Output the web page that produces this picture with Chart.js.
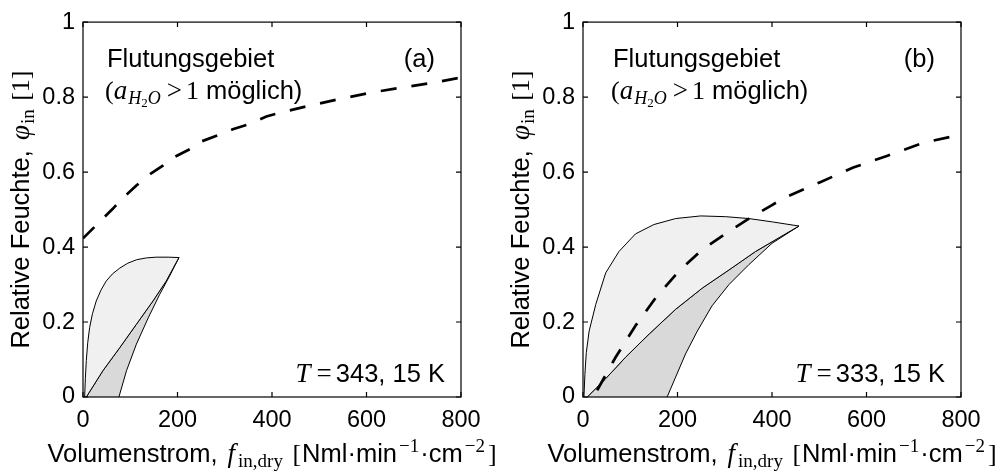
<!DOCTYPE html>
<html>
<head>
<meta charset="utf-8">
<script src="https://cdn.jsdelivr.net/npm/chart.js@4.4.0/dist/chart.umd.min.js"></script>
<style>
  body { margin: 0; background: #fff; width: 1007px; height: 476px; overflow: hidden; position: relative; }
  canvas { position: absolute; top: 0; }
</style>
</head>
<body>
<canvas id="chartA" width="500" height="476" style="left:0"></canvas>
<canvas id="chartB" width="500" height="476" style="left:500px"></canvas>
<script>
// axis ticks
const xTicks = [0, 200, 400, 600, 800];
const yTicks = [0, 0.2, 0.4, 0.6, 0.8, 1];

// (a) T = 343,15 K
const aFloodX = [0, 35, 63, 81, 113, 134, 169, 190, 226, 247, 289, 317, 349, 388, 416, 479, 536, 606, 677, 740, 800];
const aFloodY = [0.423, 0.467, 0.502, 0.527, 0.564, 0.588, 0.617, 0.638, 0.661, 0.680, 0.700, 0.714, 0.727, 0.748, 0.758, 0.777, 0.793, 0.811, 0.826, 0.838, 0.852];
const aUpperX = [3.5, 5, 7, 10, 14, 20, 28, 38, 49, 62, 78, 95, 113, 134, 155, 180, 203];
const aUpperY = [0, 0.05, 0.097, 0.145, 0.185, 0.222, 0.256, 0.285, 0.309, 0.328, 0.344, 0.357, 0.366, 0.371, 0.373, 0.373, 0.372];
const aMidX = [7, 42, 78, 113, 148, 176, 203];
const aMidY = [0, 0.07, 0.132, 0.194, 0.256, 0.309, 0.372];
const aLowX = [76, 92, 113, 138, 162, 183, 203];
const aLowY = [0, 0.07, 0.141, 0.211, 0.273, 0.322, 0.372];

// (b) T = 333,15 K
const bFloodX = [30, 69, 111, 154, 203, 252, 302, 351, 400, 424, 502, 572, 643, 720, 800];
const bFloodY = [0.018, 0.106, 0.190, 0.265, 0.336, 0.393, 0.436, 0.476, 0.512, 0.530, 0.573, 0.612, 0.643, 0.678, 0.700];
const bUpperX = [2, 4, 7, 13, 27, 48, 76, 111, 150, 196, 249, 302, 351, 401, 457];
const bUpperY = [0, 0.06, 0.119, 0.176, 0.247, 0.331, 0.388, 0.435, 0.460, 0.476, 0.483, 0.481, 0.476, 0.467, 0.456];
const bMidX = [9, 48, 90, 140, 196, 253, 309, 365, 415, 457];
const bMidY = [0, 0.049, 0.106, 0.168, 0.234, 0.291, 0.339, 0.388, 0.425, 0.456];
const bLowX = [178, 196, 217, 242, 273, 309, 351, 400, 457];
const bLowY = [0, 0.053, 0.115, 0.176, 0.243, 0.300, 0.353, 0.410, 0.456];

const SANS = '"Liberation Sans", Arial, sans-serif';
const SERIF = '"Liberation Serif", "Times New Roman", serif';
const sans = s => s + 'px ' + SANS;
const serif = s => s + 'px ' + SERIF;
const iserif = s => 'italic ' + s + 'px ' + SERIF;

const pts = (xs, ys) => xs.map((x, i) => ({ x: x, y: ys[i] }));
// closed region: first curve forward, second curve backwards
const region = (x1, y1, x2, y2) => pts(x1, y1).concat(pts(x2, y2).reverse());

// rich text: runs of {t, f, dy, gap}
function drawRuns(ctx, runs, x, y, align) {
    let w = 0;
    runs.forEach(r => { ctx.font = r.f; w += ctx.measureText(r.t).width + (r.gap || 0); });
    let cx = align === 'center' ? x - w / 2 : (align === 'right' ? x - w : x);
    ctx.textAlign = 'left';
    ctx.textBaseline = 'alphabetic';
    ctx.fillStyle = '#000';
    runs.forEach(r => {
        ctx.font = r.f;
        ctx.fillText(r.t, cx, y + (r.dy || 0));
        cx += ctx.measureText(r.t).width + (r.gap || 0);
    });
}

const xTitle = [
    { t: 'Volumenstrom, ', f: sans(25.5), gap: 3 },
    { t: 'f', f: iserif(27), gap: 3 },
    { t: 'in,dry', f: serif(19), dy: 5, gap: 3 },
    { t: ' [', f: serif(26), gap: 1 },
    { t: 'Nml·min', f: sans(25.5), gap: 2 },
    { t: '−1', f: serif(19), dy: -10, gap: 1 },
    { t: '·cm', f: sans(25.5), gap: 2 },
    { t: '−2', f: serif(19), dy: -10, gap: 3 },
    { t: ']', f: serif(26) }
];
const yTitle = [
    { t: 'Relative Feuchte, ', f: sans(25.5), gap: 3 },
    { t: 'φ', f: iserif(27), gap: 1 },
    { t: 'in', f: serif(19), dy: 5, gap: 2 },
    { t: ' [1]', f: serif(26) }
];
const floodLine1 = [{ t: 'Flutungsgebiet', f: sans(25.5) }];
const floodLine2 = [
    { t: '(', f: serif(26) },
    { t: 'a', f: iserif(27), gap: 1 },
    { t: 'H', f: iserif(18), dy: 5 },
    { t: '2', f: serif(13), dy: 8 },
    { t: 'O', f: iserif(18), dy: 5, gap: 6 },
    { t: '>', f: serif(27), gap: 4 },
    { t: '1', f: serif(26) },
    { t: ' möglich)', f: sans(25.5) }
];

function makePanel(id, tag, temp, flood, light, dark, textLeft) {
    const frame = {
        id: 'frame',
        afterDraw(chart) {
            const { ctx, chartArea: a, scales: { x, y } } = chart;
            ctx.save();
            ctx.strokeStyle = '#000';
            ctx.lineWidth = 1.2;
            ctx.strokeRect(a.left, a.top, a.right - a.left, a.bottom - a.top);
            ctx.beginPath();
            x.ticks.forEach((t, i) => {
                const px = x.getPixelForTick(i);
                ctx.moveTo(px, a.bottom); ctx.lineTo(px, a.bottom - 5);
                ctx.moveTo(px, a.top); ctx.lineTo(px, a.top + 5);
            });
            y.ticks.forEach((t, i) => {
                const py = y.getPixelForTick(i);
                ctx.moveTo(a.left, py); ctx.lineTo(a.left + 5, py);
                ctx.moveTo(a.right, py); ctx.lineTo(a.right - 5, py);
            });
            ctx.stroke();

            // axis titles
            const cx = (a.left + a.right) / 2, cy = (a.top + a.bottom) / 2;
            drawRuns(ctx, xTitle, cx, 462, 'center');
            ctx.save();
            ctx.translate(29, cy);
            ctx.rotate(-Math.PI / 2);
            drawRuns(ctx, yTitle, 0, 0, 'center');
            ctx.restore();

            // annotations
            drawRuns(ctx, floodLine1, a.left + textLeft, a.top + 45, 'left');
            drawRuns(ctx, floodLine2, a.left + textLeft - 2, a.top + 77, 'left');
            drawRuns(ctx, [{ t: tag, f: sans(25.5) }], a.right - 26, a.top + 45, 'right');
            drawRuns(ctx, [
                { t: 'T', f: iserif(27), gap: 6 },
                { t: '=', f: serif(27), gap: 4 },
                { t: temp, f: sans(25.5) }
            ], a.right - 16, 382, 'right');
            ctx.restore();
        }
    };

    return new Chart(document.getElementById(id), {
        type: 'scatter',
        data: {
            datasets: [
                { data: flood, showLine: true, borderColor: '#000', borderWidth: 2.7, borderDash: [16, 15], pointRadius: 0, fill: false },
                { data: light, showLine: true, borderColor: '#000', borderWidth: 1, backgroundColor: '#f0f0f0', pointRadius: 0, fill: 'shape' },
                { data: dark, showLine: true, borderColor: '#000', borderWidth: 1, backgroundColor: '#d9d9d9', pointRadius: 0, fill: 'shape' }
            ]
        },
        options: {
            responsive: false,
            animation: false,
            devicePixelRatio: 1,
            layout: { padding: { top: 18, right: 39, left: 0, bottom: 0 } },
            plugins: { legend: { display: false }, tooltip: { enabled: false } },
            scales: {
                x: {
                    type: 'linear', min: 0, max: 800,
                    afterBuildTicks: s => { s.ticks = xTicks.map(v => ({ value: v })); },
                    afterFit: s => { s.height = 79; },
                    grid: { display: false, drawTicks: false },
                    border: { display: false },
                    ticks: { padding: 9, color: '#000', maxRotation: 0, autoSkip: false, font: { family: SANS, size: 23.5 } }
                },
                y: {
                    type: 'linear', min: 0, max: 1,
                    afterBuildTicks: s => { s.ticks = yTicks.map(v => ({ value: v })); },
                    afterFit: s => { s.width = 83; },
                    grid: { display: false, drawTicks: false },
                    border: { display: false },
                    ticks: { padding: 8, color: '#000', autoSkip: false, font: { family: SANS, size: 23.5 }, callback: v => String(v) }
                }
            }
        },
        plugins: [frame]
    });
}

makePanel('chartA', '(a)', '343, 15 K', pts(aFloodX, aFloodY),
    region(aUpperX, aUpperY, aMidX, aMidY), region(aMidX, aMidY, aLowX, aLowY), 24);
makePanel('chartB', '(b)', '333, 15 K', pts(bFloodX, bFloodY),
    region(bUpperX, bUpperY, bMidX, bMidY), region(bMidX, bMidY, bLowX, bLowY), 30);
</script>
</body>
</html>
